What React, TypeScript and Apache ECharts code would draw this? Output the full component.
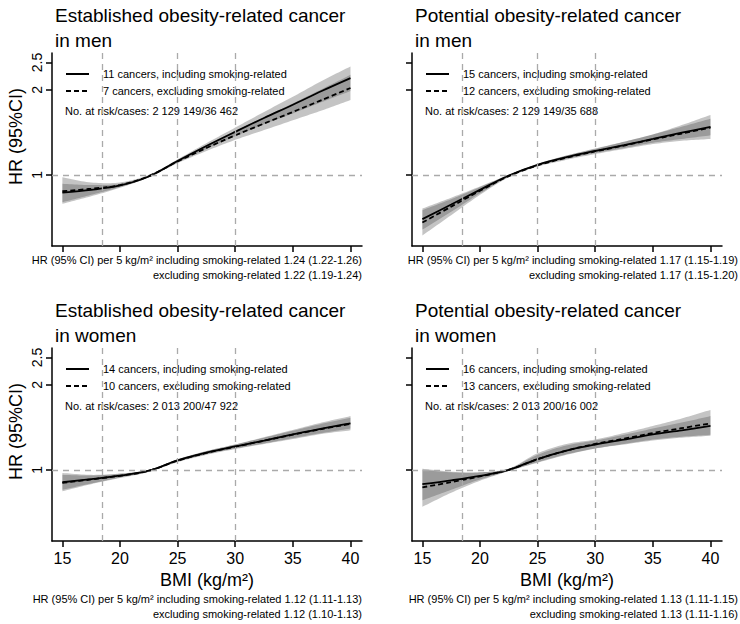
import React, { useEffect, useRef } from 'react';
import * as echarts from 'echarts';

const FONT = '"Liberation Sans", Arial, Helvetica, sans-serif';

const BMI = [15, 17.5, 20, 22.5, 25, 27.5, 30, 32.5, 35, 37.5, 40];
const X_TICKS = [15, 20, 25, 30, 35, 40];
const Y_TICKS = [1, 2, 2.5];
const REF_BMI = [18.5, 25, 30];
const REF_HR = 1;

// Established obesity-related cancer, men
const estMenIncl = [0.865, 0.885, 0.917, 0.987, 1.12, 1.265, 1.42, 1.59, 1.77, 1.98, 2.2];
const estMenInclLo = [0.8, 0.85, 0.905, 0.98, 1.105, 1.235, 1.37, 1.51, 1.65, 1.81, 1.98];
const estMenInclHi = [0.93, 0.92, 0.93, 0.995, 1.135, 1.295, 1.47, 1.67, 1.89, 2.15, 2.42];
const estMenExcl = [0.875, 0.893, 0.92, 0.99, 1.115, 1.245, 1.38, 1.52, 1.67, 1.84, 2.03];
const estMenExclLo = [0.79, 0.84, 0.9, 0.98, 1.1, 1.215, 1.33, 1.44, 1.56, 1.69, 1.84];
const estMenExclHi = [0.98, 0.94, 0.94, 1.0, 1.13, 1.275, 1.43, 1.6, 1.79, 2.01, 2.26];

// Potential obesity-related cancer, men
const potMenIncl = [0.697, 0.785, 0.885, 0.995, 1.085, 1.155, 1.216, 1.275, 1.34, 1.41, 1.48];
const potMenInclLo = [0.64, 0.74, 0.86, 0.985, 1.075, 1.14, 1.195, 1.245, 1.3, 1.34, 1.38];
const potMenInclHi = [0.76, 0.83, 0.91, 1.0, 1.095, 1.17, 1.24, 1.31, 1.39, 1.48, 1.58];
const potMenExcl = [0.678, 0.772, 0.878, 0.99, 1.08, 1.15, 1.21, 1.27, 1.335, 1.4, 1.47];
const potMenExclLo = [0.61, 0.72, 0.85, 0.98, 1.07, 1.13, 1.185, 1.235, 1.285, 1.32, 1.34];
const potMenExclHi = [0.75, 0.82, 0.905, 1.0, 1.09, 1.17, 1.235, 1.31, 1.39, 1.5, 1.63];

// Established obesity-related cancer, women
const estWomenIncl = [0.904, 0.927, 0.954, 0.993, 1.08, 1.15, 1.21, 1.27, 1.335, 1.4, 1.46];
const estWomenInclLo = [0.85, 0.895, 0.94, 0.985, 1.07, 1.135, 1.19, 1.24, 1.295, 1.35, 1.4];
const estWomenInclHi = [0.96, 0.955, 0.968, 1.0, 1.09, 1.165, 1.23, 1.3, 1.375, 1.455, 1.53];
const estWomenExcl = [0.9, 0.925, 0.953, 0.992, 1.078, 1.148, 1.208, 1.268, 1.332, 1.395, 1.455];
const estWomenExclLo = [0.84, 0.89, 0.935, 0.983, 1.065, 1.13, 1.185, 1.235, 1.285, 1.34, 1.38];
const estWomenExclHi = [0.975, 0.96, 0.97, 1.0, 1.09, 1.165, 1.23, 1.305, 1.385, 1.47, 1.55];

// Potential obesity-related cancer, women
const potWomenIncl = [0.89, 0.918, 0.952, 1.0, 1.092, 1.17, 1.229, 1.28, 1.335, 1.38, 1.43];
const potWomenInclLo = [0.78, 0.85, 0.925, 0.99, 1.065, 1.135, 1.19, 1.23, 1.27, 1.3, 1.32];
const potWomenInclHi = [1.01, 0.985, 0.98, 1.01, 1.13, 1.22, 1.27, 1.33, 1.4, 1.47, 1.55];
const potWomenExcl = [0.867, 0.905, 0.948, 1.0, 1.09, 1.17, 1.235, 1.29, 1.35, 1.405, 1.46];
const potWomenExclLo = [0.74, 0.83, 0.915, 0.99, 1.06, 1.13, 1.19, 1.235, 1.28, 1.31, 1.33];
const potWomenExclHi = [1.0, 0.98, 0.98, 1.01, 1.145, 1.235, 1.28, 1.35, 1.43, 1.52, 1.63];

const titles = [
  ['Established obesity-related cancer', 'in men'],
  ['Potential obesity-related cancer', 'in men'],
  ['Established obesity-related cancer', 'in women'],
  ['Potential obesity-related cancer', 'in women'],
];
const legendIncl = [
  '11 cancers, including smoking-related',
  '15 cancers, including smoking-related',
  '14 cancers, including smoking-related',
  '16 cancers, including smoking-related',
];
const legendExcl = [
  '7 cancers, excluding smoking-related',
  '12 cancers, excluding smoking-related',
  '10 cancers, excluding smoking-related',
  '13 cancers, excluding smoking-related',
];
const riskTexts = [
  'No. at risk/cases: 2 129 149/36 462',
  'No. at risk/cases: 2 129 149/35 688',
  'No. at risk/cases: 2 013 200/47 922',
  'No. at risk/cases: 2 013 200/16 002',
];
const footerIncl = [
  'HR (95% CI) per 5 kg/m² including smoking-related 1.24 (1.22-1.26)',
  'HR (95% CI) per 5 kg/m² including smoking-related 1.17 (1.15-1.19)',
  'HR (95% CI) per 5 kg/m² including smoking-related 1.12 (1.11-1.13)',
  'HR (95% CI) per 5 kg/m² including smoking-related 1.13 (1.11-1.15)',
];
const footerExcl = [
  'excluding smoking-related 1.22 (1.19-1.24)',
  'excluding smoking-related 1.17 (1.15-1.20)',
  'excluding smoking-related 1.12 (1.10-1.13)',
  'excluding smoking-related 1.13 (1.11-1.16)',
];

const panelData = [
  { incl: estMenIncl, inclLo: estMenInclLo, inclHi: estMenInclHi, excl: estMenExcl, exclLo: estMenExclLo, exclHi: estMenExclHi },
  { incl: potMenIncl, inclLo: potMenInclLo, inclHi: potMenInclHi, excl: potMenExcl, exclLo: potMenExclLo, exclHi: potMenExclHi },
  { incl: estWomenIncl, inclLo: estWomenInclLo, inclHi: estWomenInclHi, excl: estWomenExcl, exclLo: estWomenExclLo, exclHi: estWomenExclHi },
  { incl: potWomenIncl, inclLo: potWomenInclLo, inclHi: potWomenInclHi, excl: potWomenExcl, exclLo: potWomenExclLo, exclHi: potWomenExclHi },
];

// layout
const GRID_W = 310;
const GRID_H = 193;
const gridPos = [
  { left: 52, top: 53 },
  { left: 412, top: 53 },
  { left: 52, top: 348 },
  { left: 412, top: 348 },
];
const footerRight = [362, 738, 362, 738];

const BAND = 'rgba(60,60,60,0.3)';
const SMOOTH = 1 / 3;

// Catmull-Rom style Hermite densification in pixel space (render only)
function densify(p: number[][], n = 12): number[][] {
  const len = p.length;
  const m = p.map((_, k) => {
    const a = p[Math.max(0, k - 1)];
    const b = p[Math.min(len - 1, k + 1)];
    return (b[1] - a[1]) / (b[0] - a[0]);
  });
  const out: number[][] = [];
  for (let k = 0; k < len - 1; k++) {
    const [x0, y0] = p[k];
    const [x1, y1] = p[k + 1];
    const h = x1 - x0;
    for (let j = 0; j < n; j++) {
      const t = j / n;
      const t2 = t * t;
      const t3 = t2 * t;
      const h00 = 2 * t3 - 3 * t2 + 1;
      const h10 = t3 - 2 * t2 + t;
      const h01 = -2 * t3 + 3 * t2;
      const h11 = t3 - t2;
      out.push([x0 + t * h, h00 * y0 + h10 * h * m[k] + h01 * y1 + h11 * h * m[k + 1]]);
    }
  }
  out.push(p[len - 1]);
  return out;
}

function buildOption() {
  const grid: any[] = [];
  const xAxis: any[] = [];
  const yAxis: any[] = [];
  const series: any[] = [];
  const graphic: any[] = [];

  const pts = (arr: number[]) => BMI.map((x, k) => [x, arr[k]]);

  panelData.forEach((p, i) => {
    const g = gridPos[i];
    const isBottom = i >= 2;
    const isLeft = i % 2 === 0;
    grid.push({ left: g.left, top: g.top, width: GRID_W, height: GRID_H, containLabel: false });
    xAxis.push({
      gridIndex: i,
      type: 'value',
      min: 14.1,
      max: 41,
      axisLine: { show: true, onZero: false, lineStyle: { color: '#000', width: 1.5 } },
      axisTick: { show: true, length: 6, customValues: X_TICKS, lineStyle: { color: '#000', width: 1.5 } },
      axisLabel: {
        show: isBottom,
        customValues: X_TICKS,
        fontSize: 16,
        color: '#000',
        margin: 9,
        fontFamily: FONT,
      },
      splitLine: { show: false },
    });
    yAxis.push({
      gridIndex: i,
      type: 'log',
      logBase: 10,
      min: 0.56,
      max: 2.7,
      axisLine: { show: true, onZero: false, lineStyle: { color: '#000', width: 1.5 } },
      axisTick: { show: true, length: 6, customValues: Y_TICKS, lineStyle: { color: '#000', width: 1.5 } },
      axisLabel: {
        show: isLeft,
        customValues: Y_TICKS,
        rotate: 90,
        fontSize: 14,
        color: '#000',
        margin: 8,
        fontFamily: FONT,
        formatter: (v: number) => String(v),
      },
      splitLine: { show: false },
    });

    // reference lines
    series.push({
      type: 'line',
      xAxisIndex: i,
      yAxisIndex: i,
      data: pts(p.incl),
      symbol: 'none',
      lineStyle: { opacity: 0 },
      silent: true,
      z: 1,
      markLine: {
        silent: true,
        symbol: ['none', 'none'],
        label: { show: false },
        lineStyle: { color: '#aaaaaa', type: [6, 5], width: 1.3 },
        data: [...REF_BMI.map((v) => ({ xAxis: v })), { yAxis: REF_HR }],
      },
    });

    // CI bands (custom series, coordinates via the axes)
    const bands = [
      [p.inclLo, p.inclHi],
      [p.exclLo, p.exclHi],
    ];
    bands.forEach(([lo, hi]) => {
      series.push({
        type: 'custom',
        xAxisIndex: i,
        yAxisIndex: i,
        data: pts(hi),
        silent: true,
        z: 2,
        renderItem: (params: any, api: any) => {
          if (params.dataIndex !== 0) return null;
          const upper = densify(BMI.map((x, k) => api.coord([x, hi[k]])));
          const lower = densify(BMI.map((x, k) => api.coord([x, lo[k]])));
          return {
            type: 'polygon',
            shape: { points: upper.concat(lower.reverse()) },
            style: { fill: BAND, stroke: null },
          };
        },
      });
    });

    // estimate lines
    series.push({
      type: 'line',
      xAxisIndex: i,
      yAxisIndex: i,
      data: pts(p.incl),
      symbol: 'none',
      smooth: SMOOTH,
      lineStyle: { color: '#000', width: 1.8 },
      z: 3,
    });
    series.push({
      type: 'line',
      xAxisIndex: i,
      yAxisIndex: i,
      data: pts(p.excl),
      symbol: 'none',
      smooth: SMOOTH,
      lineStyle: { color: '#000', width: 1.8, type: [5, 3] },
      z: 4,
    });

    // titles
    const tx = g.left + 3;
    graphic.push({
      type: 'text',
      x: tx,
      y: g.top - 38,
      style: { text: titles[i][0], font: `19px ${FONT}`, fill: '#000', verticalAlign: 'middle' },
    });
    graphic.push({
      type: 'text',
      x: tx,
      y: g.top - 13,
      style: { text: titles[i][1], font: `19px ${FONT}`, fill: '#000', verticalAlign: 'middle' },
    });

    // legend
    const ly1 = g.top + 21;
    const ly2 = g.top + 38;
    graphic.push({
      type: 'line',
      shape: { x1: g.left + 14, y1: ly1, x2: g.left + 37, y2: ly1 },
      style: { stroke: '#000', lineWidth: 2 },
    });
    graphic.push({
      type: 'line',
      shape: { x1: g.left + 14, y1: ly2, x2: g.left + 37, y2: ly2 },
      style: { stroke: '#000', lineWidth: 2, lineDash: [5, 3] },
    });
    graphic.push({
      type: 'text',
      x: g.left + 51,
      y: ly1,
      style: { text: legendIncl[i], font: `11px ${FONT}`, fill: '#000', verticalAlign: 'middle' },
    });
    graphic.push({
      type: 'text',
      x: g.left + 51,
      y: ly2,
      style: { text: legendExcl[i], font: `11px ${FONT}`, fill: '#000', verticalAlign: 'middle' },
    });
    graphic.push({
      type: 'text',
      x: g.left + 13,
      y: g.top + 58,
      style: { text: riskTexts[i], font: `11px ${FONT}`, fill: '#000', verticalAlign: 'middle' },
    });

    // y axis title
    if (isLeft) {
      graphic.push({
        type: 'text',
        x: 16,
        y: g.top + GRID_H / 2 - 13,
        rotation: Math.PI / 2,
        style: { text: 'HR (95%CI)', font: `18px ${FONT}`, fill: '#000', align: 'center', verticalAlign: 'middle' },
      });
    }
    // x axis title
    if (isBottom) {
      graphic.push({
        type: 'text',
        x: g.left + GRID_W / 2,
        y: g.top + GRID_H + 39,
        style: { text: 'BMI (kg/m²)', font: `18px ${FONT}`, fill: '#000', align: 'center', verticalAlign: 'middle' },
      });
    }

    // footers
    const fy = isBottom ? g.top + GRID_H + 58 : g.top + GRID_H + 14;
    graphic.push({
      type: 'text',
      x: footerRight[i],
      y: fy,
      style: { text: footerIncl[i], font: `11px ${FONT}`, fill: '#000', align: 'right', verticalAlign: 'middle' },
    });
    graphic.push({
      type: 'text',
      x: footerRight[i],
      y: fy + 15,
      style: { text: footerExcl[i], font: `11px ${FONT}`, fill: '#000', align: 'right', verticalAlign: 'middle' },
    });
  });

  return {
    animation: false,
    backgroundColor: '#fff',
    textStyle: { fontFamily: FONT },
    grid,
    xAxis,
    yAxis,
    series,
    graphic,
  };
}

export default function App() {
  const ref = useRef<HTMLDivElement>(null);
  useEffect(() => {
    document.body.style.margin = '0';
    if (!ref.current) return;
    const chart = echarts.init(ref.current, null, { renderer: 'svg' });
    chart.setOption(buildOption() as any);
    return () => {
      chart.dispose();
    };
  }, []);
  return <div ref={ref} style={{ width: 740, height: 624 }} />;
}
